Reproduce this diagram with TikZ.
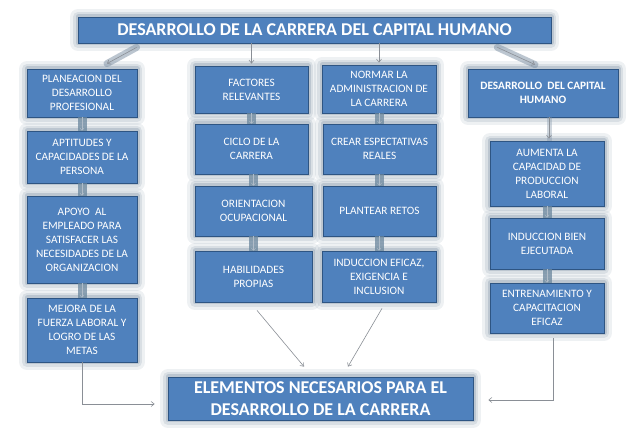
\documentclass[tikz,border=0pt]{standalone}
\usepackage{fontspec}
\setmainfont{Carlito}
\usetikzlibrary{arrows.meta,calc}
\definecolor{boxC}{HTML}{4F81BD}
\definecolor{edgeC}{HTML}{2E5583}
\definecolor{haloC}{HTML}{7B8FA3}
\definecolor{bandC}{HTML}{6A869D}
\definecolor{arrC}{HTML}{8A8F96}
\newcommand\bx[7][]{\node[box,minimum width=#5pt,minimum height=#6pt,#1] (#2) at (#3,#4) {#7};}
\begin{document}
\begin{tikzpicture}[x=1pt,y=-1pt,
  box/.style={draw=edgeC,line width=0.8pt,fill=boxC,text=white,align=center,inner sep=0pt,
    font=\fontsize{11.3}{14}\selectfont,
    preaction={draw=haloC,line width=16pt,opacity=0.12,line join=round},
    preaction={draw=haloC,line width=10pt,opacity=0.18,line join=round},
    preaction={draw=haloC,line width=5pt,opacity=0.3,line join=round}},
  band/.style={draw=bandC,line width=9pt,opacity=0.75},
  wideband/.style={draw=haloC,line width=7pt,opacity=0.5,line cap=round},
  arr/.style={draw=arrC,line width=0.6pt,-{Straight Barb[length=3pt,width=5pt]}},
  smallarr/.style={draw=haloC!60,line width=0.5pt,-{Straight Barb[length=2pt,width=4pt]}}]
\useasboundingbox[fill=white] (0,0) rectangle (638,438);
% title
\bx[font=\bfseries\fontsize{18}{20}\selectfont]{T}{314.5}{30}{473}{26}{DESARROLLO DE LA CARRERA DEL CAPITAL HUMANO}
% column 1
\bx{P1}{82}{93}{110}{48}{PLANEACION DEL\\DESARROLLO\\PROFESIONAL}
\bx{P2}{82}{157}{110}{52}{APTITUDES Y\\CAPACIDADES DE LA\\PERSONA}
\bx{P3}{82}{239.5}{110}{87}{APOYO\ \ AL\\EMPLEADO PARA\\SATISFACER LAS\\NECESIDADES DE LA\\ORGANIZACION}
\bx{P4}{82}{330}{110}{64}{MEJORA DE LA\\FUERZA LABORAL Y\\LOGRO DE LAS\\METAS}
% column 2
\bx{F1}{251.5}{89.5}{113}{47}{FACTORES\\RELEVANTES}
\bx{F2}{251.5}{149}{113}{50}{CICLO DE LA\\CARRERA}
\bx{F3}{253.5}{211}{117}{50}{ORIENTACION\\OCUPACIONAL}
\bx{F4}{253.5}{276.5}{117}{51}{HABILIDADES\\PROPIAS}
% column 3
\bx{N1}{379}{89}{114}{48}{NORMAR LA\\ADMINISTRACION DE\\LA CARRERA}
\bx{N2}{379.5}{149}{113}{50}{CREAR ESPECTATIVAS\\REALES}
\bx{N3}{379.5}{211}{113}{50}{PLANTEAR RETOS}
\bx{N4}{379}{276.5}{114}{51}{INDUCCION EFICAZ,\\EXIGENCIA E\\INCLUSION}
% column 4
\bx[font=\bfseries\fontsize{11.3}{14}\selectfont]{D0}{543}{93}{150}{48}{DESARROLLO\ \ DEL CAPITAL\\HUMANO}
\bx{D1}{547}{173.5}{114}{65}{AUMENTA LA\\CAPACIDAD DE\\PRODUCCION\\LABORAL}
\bx{D2}{547}{243.5}{114}{51}{INDUCCION BIEN\\EJECUTADA}
\bx{D3}{547}{308}{114}{50}{ENTRENAMIENTO Y\\CAPACITACION\\EFICAZ}
% bottom
\bx[font=\bfseries\fontsize{18}{22}\selectfont]{B}{320.5}{398.5}{305}{43}{ELEMENTOS NECESARIOS PARA EL\\DESARROLLO DE LA CARRERA}
% connectors from title
\coordinate (t1) at ($(T.south west)+(59,4)$);
\coordinate (p1e) at ($(P1.north)+(25,-5)$);
\draw[wideband] (t1) -- (p1e);
\draw[arr] (t1) -- (p1e);
\coordinate (t4) at ($(T.south east)+(-54,4)$);
\coordinate (d0e) at ($(D0.north)+(-8,-4)$);
\draw[wideband] (t4) -- (d0e);
\draw[arr] (t4) -- (d0e);
\draw[arr,shorten >=2pt] (F1.north |- T.south) -- (F1.north);
\draw[arr,shorten >=2pt] (N1.north |- T.south) -- (N1.north);
% stacked connectors
\foreach \a/\b in {P1/P2,P2/P3,P3/P4,F1/F2,F2/F3,F3/F4,N1/N2,N2/N3,N3/N4,D1/D2,D2/D3}{
  \draw[band] (\b.north |- \a.south) -- (\b.north);
  \draw[smallarr] (\b.north |- \a.south) -- (\b.north);
}
\draw[draw=haloC,line width=5pt,opacity=0.35] ($(D1.north |- D0.south)+(2,0)$) -- ($(D1.north)+(2,0)$);
\draw[arr,shorten >=2pt] ($(D1.north |- D0.south)+(2,0)$) -- ($(D1.north)+(2,0)$);
% connectors to bottom box
\coordinate (pb) at ($(B.west)+(-13,5.5)$);
\draw[arr] (P4.south) |- (pb);
\coordinate (db) at ($(B.east)+(15,1.5)$);
\draw[arr] ($(D3.south)+(6,5)$) |- (db);
\draw[arr] ($(F4.south)+(3.5,8)$) -- ($(B.north)+(-16.5,-10)$);
\draw[arr] ($(N4.south)+(3,6)$) -- ($(B.north)+(27.5,-10)$);
\end{tikzpicture}
\end{document}
